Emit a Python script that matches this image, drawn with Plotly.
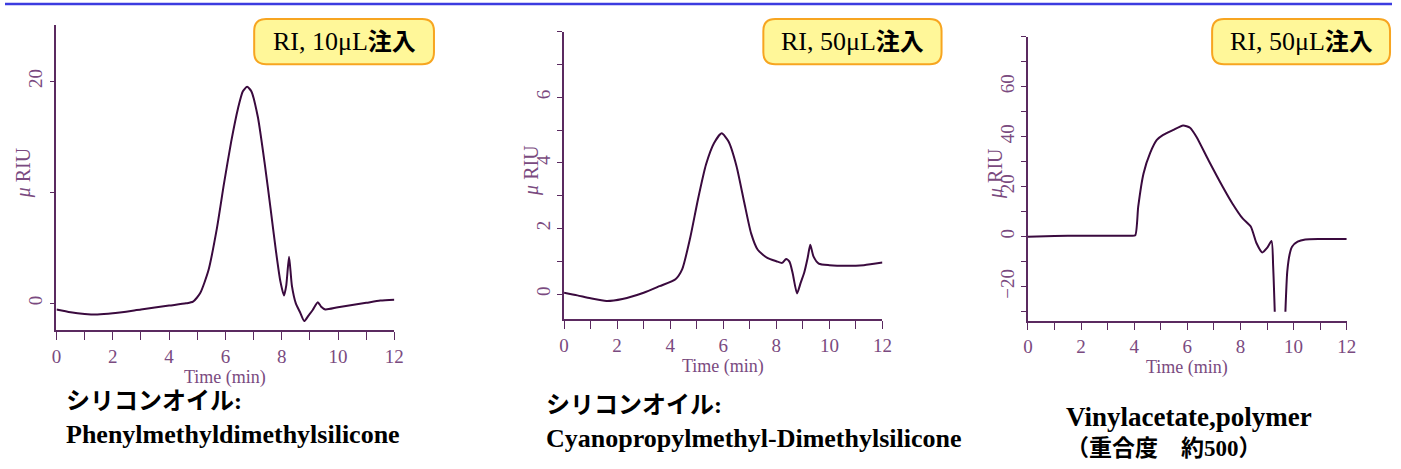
import plotly.graph_objects as go

W, H = 1401, 469

# chromatogram 1: phenylmethyldimethylsilicone, 10uL
t1 = [0, 0.5, 1.0, 1.45, 2.0, 3.0, 4.0, 4.6, 4.85, 5.1, 5.4, 5.7, 5.95, 6.2,
      6.45, 6.62, 6.77, 6.92, 7.15, 7.4, 7.6, 7.8, 7.95, 8.08, 8.16, 8.26,
      8.36, 8.5, 8.65, 8.8, 8.95, 9.1, 9.28, 9.4, 9.55, 10.0, 11.0, 11.5, 12.0]
y1 = [-0.55, -0.8, -0.95, -1.0, -0.9, -0.55, -0.2, 0.0, 0.15, 0.9, 3.0, 6.8,
      10.8, 14.5, 17.6, 19.1, 19.5, 19.1, 16.8, 12.5, 8.6, 4.6, 2.0, 0.7, 1.6,
      4.2, 1.6, 0.0, -0.8, -1.6, -1.1, -0.6, 0.1, -0.3, -0.55, -0.35, 0.05, 0.25, 0.33]

# chromatogram 2: cyanopropylmethyl-dimethylsilicone, 50uL
t2 = [0, 0.5, 1.0, 1.6, 2.2, 3.0, 3.6, 4.2, 4.45, 4.75, 5.05, 5.35, 5.65,
      5.94, 6.2, 6.5, 6.79, 7.05, 7.3, 7.66, 8.0, 8.22, 8.37, 8.5, 8.62, 8.78,
      8.92, 9.05, 9.18, 9.28, 9.4, 9.6, 10.0, 10.65, 11.3, 12.0]
y2 = [0.04, -0.04, -0.13, -0.21, -0.15, 0.04, 0.24, 0.45, 0.75, 1.7, 2.9,
      3.95, 4.6, 4.9, 4.65, 3.9, 2.8, 1.85, 1.35, 1.1, 1.0, 0.95, 1.07, 0.98,
      0.62, 0.02, 0.35, 0.65, 1.1, 1.5, 1.15, 0.93, 0.88, 0.86, 0.88, 0.96]

# chromatogram 3: vinylacetate polymer, 50uL (signal runs off scale near 9.5 min)
t3 = [0, 1.0, 2.0, 3.0, 3.9, 4.04, 4.15, 4.35, 4.6, 4.85, 5.09, 5.45, 5.84,
      6.1, 6.34, 6.8, 7.33, 7.7, 8.08, 8.39, 8.6, 8.82, 9.0, 9.17, 9.23, 9.29,
      9.5, 9.69, 9.76, 9.85, 9.94, 10.15, 10.44, 11.0, 12.0]
y3 = [0.0, 0.3, 0.4, 0.4, 0.4, 0.6, 12.0, 25.3, 33.5, 38.7, 40.7, 42.6, 44.5,
      43.6, 40.0, 30.5, 20.0, 13.2, 7.3, 4.0, -2.5, -6.3, -4.5, -1.7, -12.0,
      -30.0, None, -30.0, -14.0, -7.0, -4.0, -2.0, -1.1, -0.9, -0.9]

series = [(t1, y1), (t2, y2), (t3, y3)]

y_ranges = [[-2.4, 25.07], [-0.77, 8.0], [-33.6, 80.0]]
y_tickvals = [[0, 20], [0, 2, 4, 6], [-20, 0, 20, 40, 60]]
y_ticktext = [["0", "20"], ["0", "2", "4", "6"], ["\u221220", "0", "20", "40", "60"]]
y_minor = [10, 1, 10]
x_tickvals = [0, 2, 4, 6, 8, 10, 12]

INJ = '<span style="font-size:24px"><b>注入</b></span>'
box_labels = ["RI, 10\u03bcL" + INJ, "RI, 50\u03bcL" + INJ, "RI, 50\u03bcL" + INJ]
captions = [
    ("<b>シリコンオイル:</b>", "<b>Phenylmethyldimethylsilicone</b>"),
    ("<b>シリコンオイル:</b>", "<b>Cyanopropylmethyl-Dimethylsilicone</b>"),
    ("<b>Vinylacetate,polymer</b>", "<b>（重合度　約500）</b>"),
]
caption_sizes = [(24, 26), (24, 26), (27, 23)]

# pixel layout of each panel: left, right, top, bottom
panels = [(52, 393.3, 25, 330), (564.7, 886.3, 31.7, 319.3), (1033.3, 1355.3, 36.7, 320.7)]
boxes = [(251.7, 433.3, 19, 64.3), (766, 946, 19, 64.3), (1219.3, 1399, 19, 64.3)]
caption_pos = [(60, 401, 434), (544, 405, 438), (1070, 417, 448)]

LINE = '#3a0a3e'
AXIS = '#5b2a60'
TXT = '#7a4a80'
SERIF = 'Liberation Serif, Noto Sans CJK JP'
TICKFONT = dict(family='Liberation Serif', size=19, color=TXT)


def px(x):
    return x / W


def py(y):
    return 1 - y / H


def rounded_rect(x0, x1, y0, y1, r=12):
    pts = [
        f"M {px(x0 + r)} {py(y0)}", f"L {px(x1 - r)} {py(y0)}",
        f"Q {px(x1)} {py(y0)} {px(x1)} {py(y0 + r)}", f"L {px(x1)} {py(y1 - r)}",
        f"Q {px(x1)} {py(y1)} {px(x1 - r)} {py(y1)}", f"L {px(x0 + r)} {py(y1)}",
        f"Q {px(x0)} {py(y1)} {px(x0)} {py(y1 - r)}", f"L {px(x0)} {py(y0 + r)}",
        f"Q {px(x0)} {py(y0)} {px(x0 + r)} {py(y0)}", "Z",
    ]
    return " ".join(pts)


fig = go.Figure()
layout = dict(
    width=W, height=H,
    margin=dict(l=0, r=0, t=0, b=0),
    paper_bgcolor='white', plot_bgcolor='white',
    showlegend=False,
)
shapes = []
annotations = []

for i, ((t, y), (l, r, top, bot)) in enumerate(zip(series, panels)):
    n = '' if i == 0 else str(i + 1)
    fig.add_trace(go.Scatter(
        x=t, y=y, mode='lines', xaxis='x' + n, yaxis='y' + n,
        line=dict(color=LINE, width=2, shape='spline', smoothing=0.6),
        connectgaps=False, hoverinfo='skip',
    ))
    layout['xaxis' + n] = dict(
        domain=[px(l), px(r)], anchor='y' + n, range=[0, 12],
        tickmode='array', tickvals=x_tickvals,
        showline=True, linecolor=AXIS, linewidth=1.5,
        ticks='outside', ticklen=8, tickwidth=1.2, tickcolor=AXIS,
        minor=dict(tickmode='linear', tick0=0, dtick=1, ticklen=8,
                   tickwidth=1.2, tickcolor=AXIS, ticks='outside'),
        showgrid=False, zeroline=False, tickfont=TICKFONT, fixedrange=True,
    )
    layout['yaxis' + n] = dict(
        domain=[py(bot), py(top)], anchor='x' + n, range=y_ranges[i],
        tickmode='array', tickvals=y_tickvals[i], ticktext=y_ticktext[i],
        tickangle=-90,
        showline=True, linecolor=AXIS, linewidth=1.5,
        ticks='outside', ticklen=5, tickwidth=1.2, tickcolor=AXIS,
        minor=dict(tickmode='linear', tick0=0, dtick=y_minor[i], ticklen=5,
                   tickwidth=1.2, tickcolor=AXIS, ticks='outside'),
        showgrid=False, zeroline=False, tickfont=TICKFONT, fixedrange=True,
    )
    # axis titles
    annotations.append(dict(
        text='<i>\u03bc</i> RIU', xref='paper', yref='paper',
        x=px(l - 33), y=py((top + bot) / 2 - 5), xanchor='center', yanchor='middle',
        textangle=-90, showarrow=False,
        font=dict(family='Liberation Serif', size=20, color=TXT),
    ))
    annotations.append(dict(
        text='Time (min)', xref='paper', yref='paper',
        x=px((l + r) / 2), y=py(bot + 47), xanchor='center', yanchor='middle',
        showarrow=False,
        font=dict(family='Liberation Serif', size=18, color=TXT),
    ))

    # label box
    bx0, bx1, by0, by1 = boxes[i]
    shapes.append(dict(
        type='path', xref='paper', yref='paper', path=rounded_rect(bx0, bx1, by0, by1),
        fillcolor='#fff799', line=dict(color='#f7a520', width=2), layer='above',
    ))
    annotations.append(dict(
        text=box_labels[i], xref='paper', yref='paper',
        x=px((bx0 + bx1) / 2), y=py((by0 + by1) / 2), xanchor='center', yanchor='middle',
        showarrow=False,
        font=dict(family=SERIF, size=26, color='black'),
    ))

    # captions
    cx, cy1, cy2 = caption_pos[i]
    for txt, cy, fs in zip(captions[i], (cy1, cy2), caption_sizes[i]):
        annotations.append(dict(
            text=txt, xref='paper', yref='paper',
            x=px(cx), y=py(cy), xanchor='left', yanchor='middle',
            showarrow=False,
            font=dict(family=SERIF, size=fs, color='black'),
        ))

# blue rule at top
shapes.append(dict(
    type='line', xref='paper', yref='paper', x0=0, x1=1, y0=py(4), y1=py(4),
    line=dict(color='#3c3ce0', width=2.5),
))

layout['shapes'] = shapes
layout['annotations'] = annotations
fig.update_layout(**layout)

fig.write_html("out.html", config={'displayModeBar': False},
               post_script="document.body.style.margin='0';")
